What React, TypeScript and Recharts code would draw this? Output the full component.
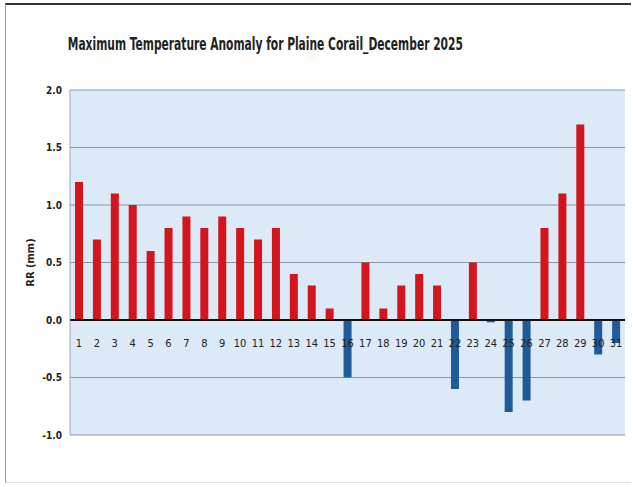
import { BarChart, Bar, XAxis, YAxis, CartesianGrid, ReferenceLine, Cell } from 'recharts';

const days = Array.from({ length: 31 }, (_, i) => String(i + 1));
const anomaly = [
  1.2, 0.7, 1.1, 1.0, 0.6, 0.8, 0.9, 0.8, 0.9, 0.8,
  0.7, 0.8, 0.4, 0.3, 0.1, -0.5, 0.5, 0.1, 0.3, 0.4,
  0.3, -0.6, 0.5, -0.02, -0.8, -0.7, 0.8, 1.1, 1.7, -0.3,
  -0.2,
];
const yTicks = [-1, -0.5, 0, 0.5, 1, 1.5, 2];

const data = days.map((d, i) => ({ day: d, value: anomaly[i] }));

const font = '"DejaVu Sans Condensed", "Liberation Sans", Arial, sans-serif';

function DayTick({ x, y, payload }: any) {
  return (
    <text x={x} y={y - 96} textAnchor="middle" fontSize={11} fontFamily={font} fill="#222">
      {payload.value}
    </text>
  );
}

export default function App() {
  return (
    <div style={{ position: 'absolute', left: 0, top: 0, width: 633, height: 487, background: '#fff' }}>
      <div style={{ position: 'absolute', left: 5, top: 3, right: 2, bottom: 4, borderTop: '2px solid #333', borderLeft: '1px solid #999', borderBottom: '1px solid #ddd' }} />
      <div style={{ position: 'absolute', left: 265, top: 33, width: 0, display: 'flex', justifyContent: 'center' }}>
        <span style={{ whiteSpace: 'nowrap', display: 'inline-block', transform: 'scaleX(0.66)', fontFamily: font, fontWeight: 'bold', fontSize: 18, color: '#222' }}>
          Maximum Temperature Anomaly for Plaine Corail_December 2025
        </span>
      </div>
      <BarChart width={633} height={487} data={data} margin={{ top: 90, right: 8, bottom: 22, left: 30 }} barSize={8} style={{ position: 'absolute', left: 0, top: 0 }}>
        <CartesianGrid vertical={false} fill="#dce9f7" stroke="#8796aa" />
        <XAxis dataKey="day" height={30} axisLine={false} tickLine={false} tick={<DayTick />} interval={0} />
        <YAxis
          domain={[-1, 2]}
          ticks={yTicks}
          width={40}
          tickFormatter={(v: number) => v.toFixed(1)}
          tick={{ fontSize: 10, fontFamily: font, fill: '#222', fontWeight: 'bold' }}
          axisLine={{ stroke: '#9aa8b8' }}
          tickLine={false}
          label={{ value: 'RR  (mm)', angle: -90, position: 'insideLeft', offset: 0, dx: 0, style: { fontSize: 11, fontWeight: 'bold', fontFamily: font, fill: '#222', textAnchor: 'middle' } }}
        />
        <YAxis yAxisId="r" orientation="right" width={0} tick={false} axisLine={{ stroke: '#c8d4e2' }} />
        <ReferenceLine y={0} stroke="#111" strokeWidth={2} />
        <Bar dataKey="value" isAnimationActive={false}>
          {data.map((d, i) => (
            <Cell key={i} fill={d.value >= 0 ? '#d4151c' : '#1f5a99'} />
          ))}
        </Bar>
      </BarChart>
    </div>
  );
}
